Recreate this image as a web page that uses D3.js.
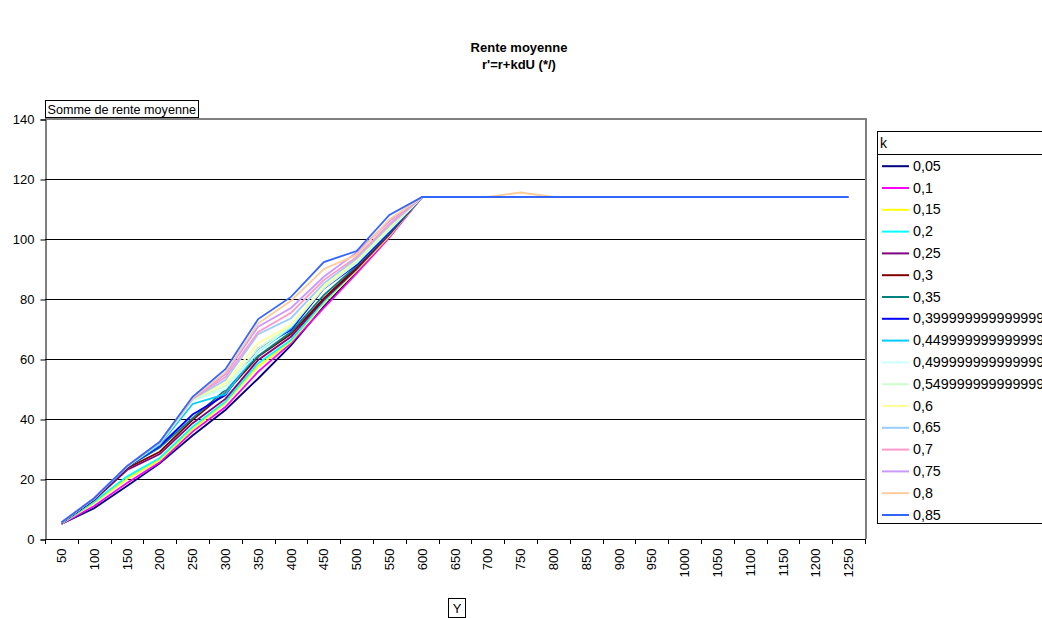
<!DOCTYPE html>
<html>
<head>
<meta charset="utf-8">
<script src="https://cdn.jsdelivr.net/npm/d3@7"></script>
<style>
  html, body { margin: 0; padding: 0; background: #fff; overflow: hidden; }
  svg { display: block; font-family: "Liberation Sans", Arial, sans-serif; }
</style>
</head>
<body>
<svg id="chart" width="1042" height="618"></svg>
<script>
// ---- data ----
const categories = [50,100,150,200,250,300,350,400,450,500,550,600,650,700,750,800,850,900,950,1000,1050,1100,1150,1200,1250];
const yTicks = [0,20,40,60,80,100,120,140];
const kLabels = ["0,05","0,1","0,15","0,2","0,25","0,3","0,35","0,399999999999999","0,449999999999999","0,499999999999999","0,549999999999999","0,6","0,65","0,7","0,75","0,8","0,85"];
const colors = ["#000080","#FF00FF","#FFFF00","#00FFFF","#800080","#800000","#008080","#0000FF","#00CCFF","#CCFFFF","#CCFFCC","#FFFF99","#99CCFF","#FF99CC","#CC99FF","#FFCC99","#3366FF"];

const k005 = [5.0,10.3,17.7,25.2,34.5,43.0,53.5,64.5,77.5,89.0,101.0,114,114,114,114,114,114,114,114,114,114,114,114,114,114];
const k010 = [5.0,11.0,18.7,25.6,35.8,44.0,55.8,65.3,77.0,88.5,100.5,114,114,114,114,114,114,114,114,114,114,114,114,114,114];
const k015 = [5.1,12.0,20.0,26.3,36.6,45.3,57.5,65.8,78.6,89.5,101.0,114,114,114,114,114,114,114,114,114,114,114,114,114,114];
const k020 = [5.2,12.4,20.8,27.0,37.4,45.8,58.6,66.3,79.1,90.0,101.5,114,114,114,114,114,114,114,114,114,114,114,114,114,114];
const k025 = [5.3,13.0,23.0,28.3,38.6,46.7,59.7,67.4,79.7,90.0,101.5,114,114,114,114,114,114,114,114,114,114,114,114,114,114];
const k030 = [5.3,13.2,23.6,29.1,39.7,48.7,60.8,68.3,80.2,90.5,102.0,114,114,114,114,114,114,114,114,114,114,114,114,114,114];
const k035 = [5.4,13.4,24.0,30.5,40.3,49.7,61.0,69.0,81.3,91.0,102.0,114,114,114,114,114,114,114,114,114,114,114,114,114,114];
const k040 = [5.4,13.5,24.0,31.0,41.5,48.0,63.5,69.7,83.5,91.5,102.5,114,114,114,114,114,114,114,114,114,114,114,114,114,114];
const k045 = [5.4,13.5,24.0,31.5,45.0,48.3,62.5,70.3,84.0,92.0,103.0,114,114,114,114,114,114,114,114,114,114,114,114,114,114];
const k050 = [5.5,13.6,24.2,32.0,46.0,50.0,62.5,70.8,83.6,92.0,103.0,114,114,114,114,114,114,114,114,114,114,114,114,114,114];
const k055 = [5.5,13.6,24.2,32.0,46.3,51.0,63.5,71.0,83.9,92.5,103.5,114,114,114,114,114,114,114,114,114,114,114,114,114,114];
const k060 = [5.5,13.6,24.2,32.2,46.5,52.0,65.3,71.3,84.3,93.0,104.0,114,114,114,114,114,114,114,114,114,114,114,114,114,114];
const k065 = [5.5,13.6,24.3,32.2,46.7,53.0,68.3,73.6,85.2,93.5,104.5,114,114,114,114,114,114,114,114,114,114,114,114,114,114];
const k070 = [5.5,13.6,24.3,32.3,46.8,54.0,69.0,75.4,86.3,94.0,105.0,114,114,114,114,114,114,114,114,114,114,114,114,114,114];
const k075 = [5.5,13.6,24.3,32.3,47.0,55.0,70.8,77.0,87.4,95.5,106.0,114,114,114,114,114,114,114,114,114,114,114,114,114,114];
const k080 = [5.5,13.6,24.3,32.4,47.0,55.5,71.9,79.4,90.0,94.7,106.5,114,114,114,115.5,114,114,114,114,114,114,114,114,114,114];
const k085 = [5.5,13.6,24.3,32.4,47.4,56.6,73.3,80.7,92.3,96.0,108.0,114,114,114,114,114,114,114,114,114,114,114,114,114,114];

const seriesValues = [k005,k010,k015,k020,k025,k030,k035,k040,k045,k050,k055,k060,k065,k070,k075,k080,k085];

// ---- layout ----
const svg = d3.select("#chart");
const plot = {left: 45, right: 866, top: 119, bottom: 539};

const x = d3.scaleBand().domain(categories).range([plot.left, plot.right - 1]).padding(0);
const y = d3.scaleLinear().domain([0, 140]).range([plot.bottom, plot.top]);

// Title
svg.append("text").attr("x", 519).attr("y", 52).attr("text-anchor", "middle")
  .attr("font-size", 13).attr("font-weight", "bold").text("Rente moyenne");
svg.append("text").attr("x", 519).attr("y", 69).attr("text-anchor", "middle")
  .attr("font-size", 13).attr("font-weight", "bold").text("r'=r+kdU (*/)");

// Field button "Somme de rente moyenne"
const fb = svg.append("g");
fb.append("rect").attr("x", 45.5).attr("y", 100.5).attr("width", 153).attr("height", 17)
  .attr("fill", "#fff").attr("stroke", "#000");
fb.append("text").attr("x", 47.5).attr("y", 113.5).attr("font-size", 12.6).text("Somme de rente moyenne");

// Gridlines
svg.append("g").selectAll("line").data(yTicks).join("line")
  .attr("x1", plot.left).attr("x2", plot.right)
  .attr("y1", d => Math.round(y(d)) + 0.5).attr("y2", d => Math.round(y(d)) + 0.5)
  .attr("stroke", "#000").attr("stroke-width", 1);

// Plot border (top & right)
svg.append("path")
  .attr("d", `M${plot.left},${plot.top} H${plot.right} V${plot.bottom}`)
  .attr("fill", "none").attr("stroke", "#808080").attr("stroke-width", 2);

// Y axis
const yAxis = d3.axisLeft(y).tickValues(yTicks).tickSize(5).tickPadding(6).tickFormat(d3.format("d"));
const gy = svg.append("g").attr("transform", `translate(${plot.left + 0.5},0.5)`).call(yAxis);
gy.select(".domain").attr("stroke", "#000");
gy.selectAll(".tick line").attr("stroke", "#000");
gy.selectAll(".tick text").attr("font-size", 13).attr("font-family", "Liberation Sans, Arial, sans-serif").attr("fill", "#000");

// X axis (labels at band centers, ticks at band boundaries)
const xAxis = d3.axisBottom(x).tickSize(0).tickPadding(0);
const gx = svg.append("g").attr("transform", `translate(0,${plot.bottom + 0.5})`).call(xAxis);
gx.select(".domain").remove();
gx.selectAll(".tick text")
  .attr("font-size", 13).attr("font-family", "Liberation Sans, Arial, sans-serif").attr("fill", "#000")
  .attr("transform", "rotate(-90)")
  .attr("text-anchor", "end")
  .attr("x", -9).attr("y", 0).attr("dy", "0.35em");
svg.append("line").attr("x1", plot.left).attr("x2", plot.right)
  .attr("y1", plot.bottom + 0.5).attr("y2", plot.bottom + 0.5).attr("stroke", "#000");
const boundaries = categories.map(c => x(c)).concat([x(categories[categories.length - 1]) + x.bandwidth()]);
svg.append("g").selectAll("line").data(boundaries).join("line")
  .attr("x1", d => Math.round(d) + 0.5).attr("x2", d => Math.round(d) + 0.5)
  .attr("y1", plot.bottom).attr("y2", plot.bottom + 5)
  .attr("stroke", "#000");

// Series lines
const line = d3.line().x((d, i) => x(categories[i]) + x.bandwidth() / 2).y(d => y(d));
svg.append("g").selectAll("path").data(seriesValues).join("path")
  .attr("d", d => line(d))
  .attr("fill", "none")
  .attr("stroke", (d, i) => colors[i])
  .attr("stroke-width", 1.8)
  .attr("stroke-linejoin", "miter");

// Field button "Y"
svg.append("rect").attr("x", 448.5).attr("y", 598.5).attr("width", 17).attr("height", 19)
  .attr("fill", "#fff").attr("stroke", "#000");
svg.append("text").attr("x", 457).attr("y", 613).attr("text-anchor", "middle").attr("font-size", 13).text("Y");

// Legend
const lg = svg.append("g");
lg.append("rect").attr("x", 877.5).attr("y", 131.5).attr("width", 200).attr("height", 392)
  .attr("fill", "#fff").attr("stroke", "#000");
lg.append("line").attr("x1", 877.5).attr("x2", 1100).attr("y1", 154.5).attr("y2", 154.5).attr("stroke", "#000");
lg.append("text").attr("x", 880).attr("y", 148).attr("font-size", 14).text("k");
const legendY = d3.scalePoint().domain(kLabels).range([165.7, 514.5]);
const items = lg.selectAll("g.item").data(kLabels).join("g").attr("class", "item")
  .attr("transform", d => `translate(0,${legendY(d)})`);
items.append("line").attr("x1", 882).attr("x2", 909).attr("y1", 0.5).attr("y2", 0.5)
  .attr("stroke", (d, i) => colors[i]).attr("stroke-width", 2);
items.append("text").attr("x", 913).attr("y", 0).attr("dy", "0.35em").attr("font-size", 14.3).text(d => d);
</script>
</body>
</html>
